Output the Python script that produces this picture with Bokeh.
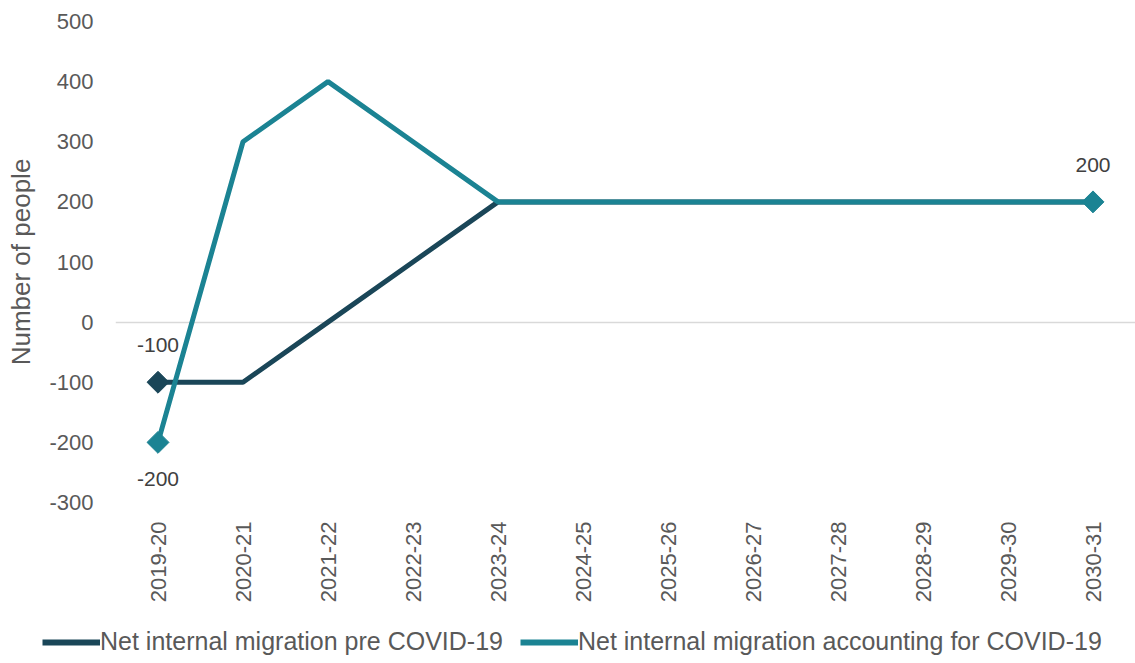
import math
from bokeh.plotting import figure
from bokeh.layouts import column
from bokeh.models import (ColumnDataSource, Range1d, FixedTicker, Legend, LegendItem)
from bokeh.core.properties import value
from bokeh.embed import file_html
from bokeh.resources import INLINE

categories = ["2019-20", "2020-21", "2021-22", "2022-23", "2023-24", "2024-25",
              "2025-26", "2026-27", "2027-28", "2028-29", "2029-30", "2030-31"]
pre_covid = [-100, -100, 0, 100, 200, 200, 200, 200, 200, 200, 200, 200]
with_covid = [-200, 300, 400, 300, 200, 200, 200, 200, 200, 200, 200, 200]
y_ticks = [-300, -200, -100, 0, 100, 200, 300, 400, 500]
series_names = ["Net internal migration pre COVID-19",
                "Net internal migration accounting for COVID-19"]
pre_marked = [0]
covid_marked = [0, 11]

DARK = "#1a4658"
TEAL = "#1b8393"
FONT = "Liberation Sans"

xs = list(range(len(categories)))

p = figure(width=1135, height=620, output_backend="svg", toolbar_location=None,
           x_range=Range1d(-0.5, len(categories) - 0.5),
           y_range=Range1d(y_ticks[0], y_ticks[-1]),
           min_border_left=115, min_border_top=21, min_border_right=0,
           min_border_bottom=118)
p.outline_line_color = None
p.frame_align = False

# axes
p.xaxis.ticker = FixedTicker(ticks=xs)
p.xaxis.major_label_overrides = {i: c for i, c in enumerate(categories)}
p.xaxis.major_label_orientation = math.pi / 2
p.yaxis.ticker = FixedTicker(ticks=y_ticks)
p.yaxis.major_label_overrides = {v: str(v) for v in y_ticks}
for ax in (p.xaxis[0], p.yaxis[0]):
    ax.axis_line_color = None
    ax.major_tick_line_color = None
    ax.minor_tick_line_color = None
    ax.major_tick_out = 0
    ax.major_tick_in = 0
    ax.minor_tick_out = 0
    ax.minor_tick_in = 0
    ax.major_label_text_font = FONT
    ax.major_label_text_font_size = "22px"
    ax.major_label_text_color = "#595959"
p.xaxis.major_label_standoff = 19
p.yaxis.major_label_standoff = 22
p.yaxis.axis_label = "Number of people"
p.yaxis.axis_label_text_font = FONT
p.yaxis.axis_label_text_font_size = "26px"
p.yaxis.axis_label_text_font_style = "normal"
p.yaxis.axis_label_text_color = "#595959"
p.yaxis.axis_label_standoff = 10

p.xgrid.grid_line_color = None
p.ygrid.ticker = FixedTicker(ticks=[0])
p.ygrid.grid_line_color = "#d9d9d9"
p.ygrid.grid_line_width = 1.5

src = ColumnDataSource(dict(x=xs, pre=pre_covid, cov=with_covid))
p.line("x", "pre", source=src, line_color=DARK, line_width=5)
pre_src = ColumnDataSource(dict(x=[xs[i] for i in pre_marked],
                                y=[pre_covid[i] for i in pre_marked],
                                t=[str(pre_covid[i]) for i in pre_marked]))
p.scatter("x", "y", source=pre_src, marker="square", angle=math.pi / 4, size=15.5,
          fill_color=DARK, line_color=DARK)
p.line("x", "cov", source=src, line_color=TEAL, line_width=5)
cov_src = ColumnDataSource(dict(x=[xs[i] for i in covid_marked],
                                y=[with_covid[i] for i in covid_marked],
                                t=[str(with_covid[i]) for i in covid_marked],
                                off=[37 if with_covid[i] < 0 else -37 for i in covid_marked]))
p.scatter("x", "y", source=cov_src, marker="square", angle=math.pi / 4, size=15.5,
          fill_color=TEAL, line_color=TEAL)

p.text("x", "y", text="t", source=pre_src, y_offset=-37, text_align="center",
       text_baseline="middle", text_font=value(FONT), text_font_size="21px",
       text_color="#404040")
p.text("x", "y", text="t", source=cov_src, y_offset="off", text_align="center",
       text_baseline="middle", text_font=value(FONT), text_font_size="21px",
       text_color="#404040")

# legend strip below the chart (same series, drawn out of view so only the key shows)
pl = figure(width=1135, height=43, output_backend="svg", toolbar_location=None,
            x_range=Range1d(-0.5, len(categories) - 0.5), y_range=Range1d(5000, 6000),
            x_axis_type=None, y_axis_type=None, min_border=0,
            min_border_left=0, min_border_right=0, min_border_top=0,
            min_border_bottom=0)
pl.outline_line_color = None
pl.frame_align = False
pl.grid.visible = False
l_pre = pl.line("x", "pre", source=src, line_color=DARK, line_width=6)
l_cov = pl.line("x", "cov", source=src, line_color=TEAL, line_width=6)
legend = Legend(items=[LegendItem(label=series_names[0], renderers=[l_pre]),
                       LegendItem(label=series_names[1], renderers=[l_cov])],
                orientation="horizontal", location=(42, 7),
                label_text_font=FONT, label_text_font_size="25px",
                label_text_color="#595959", glyph_width=58, label_standoff=0,
                spacing=17, padding=0, margin=0, border_line_color=None,
                background_fill_alpha=0)
pl.add_layout(legend, "center")

layout = column(p, pl, spacing=0)
open("out.html", "w").write(file_html(layout, INLINE))
